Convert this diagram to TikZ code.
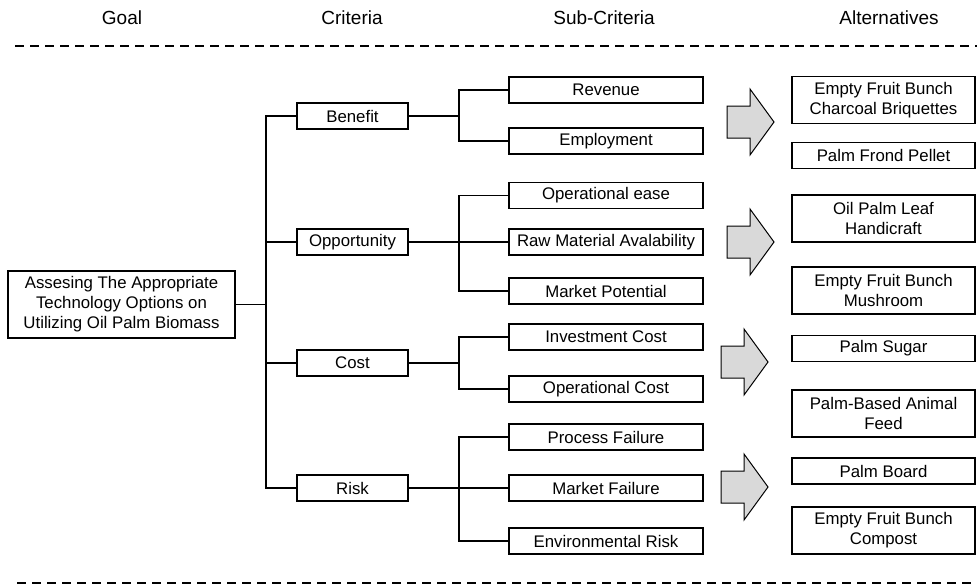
\documentclass[tikz,border=0pt]{standalone}
\usepackage{fontspec}
\setmainfont{Liberation Sans}

\begin{document}
\begin{tikzpicture}[x=0.5pt,y=-0.5pt]
	\tikzstyle{every node}=[font=\fontsize{8.4}{10}\selectfont]
	\tikzstyle{box}=[draw,line width=0.9pt,inner sep=0pt,align=center,minimum height=13pt]
	\tikzstyle{crit}=[box,minimum width=55.5pt]
	\tikzstyle{sub}=[box,minimum width=97pt]
	\tikzstyle{alt}=[box,minimum width=91.5pt]
	\tikzstyle{tall}=[minimum height=23.5pt]
	\tikzstyle{head}=[font=\fontsize{9.5}{11}\selectfont]
	\tikzstyle{link}=[draw,line width=0.8pt]
	\tikzstyle{sep}=[draw,line width=1pt,dash pattern=on 4.5pt off 3pt]
	\tikzstyle{bigarrow}=[draw,line width=0.5pt,fill=gray!30]

	\useasboundingbox (0,0) rectangle (977,585);

	\node[head] (hgoal) at (122,18) {Goal};
	\node[head] (hcrit) at (352,18) {Criteria};
	\node[head] (hsub) at (604,18) {Sub-Criteria};
	\node[head] (halt) at (889,18) {Alternatives};
	\draw[sep] (15,46) -- (977,46);
	\draw[sep] (17,583) -- (977,583);

	\node[box,minimum width=113.5pt,minimum height=33.5pt] (goal) at (121.5,304.5) {Assesing The Appropriate\\Technology Options on\\Utilizing Oil Palm Biomass};

	\node[crit] (benefit) at (352.5,116) {Benefit};
	\node[crit] (opport) at (352.5,242) {Opportunity};
	\node[crit] (cost) at (352.5,363) {Cost};
	\node[crit] (risk) at (352.5,488) {Risk};

	\node[sub] (revenue) at (606,90) {Revenue};
	\node[sub] (employ) at (606,141) {Employment};
	\node[sub] (opease) at (606,195.5) {Operational ease};
	\node[sub] (rawmat) at (606,242) {Raw Material Avalability};
	\node[sub] (market) at (606,291) {Market Potential};
	\node[sub] (invest) at (606,337) {Investment Cost};
	\node[sub] (opcost) at (606,389) {Operational Cost};
	\node[sub] (procfail) at (606,437) {Process Failure};
	\node[sub] (mktfail) at (606,488) {Market Failure};
	\node[sub] (envrisk) at (606,541) {Environmental Risk};

	\node[alt,tall] (efbchar) at (883.5,100) {Empty Fruit Bunch\\Charcoal Briquettes};
	\node[alt] (pellet) at (883.5,155.5) {Palm Frond Pellet};
	\node[alt,tall] (leaf) at (883.5,218.5) {Oil Palm Leaf\\Handicraft};
	\node[alt,tall] (mushroom) at (883.5,290.5) {Empty Fruit Bunch\\Mushroom};
	\node[alt] (sugar) at (883.5,348.5) {Palm Sugar};
	\node[alt,tall] (feed) at (883.5,413.5) {Palm-Based Animal\\Feed};
	\node[alt] (board) at (883.5,471) {Palm Board};
	\node[alt,tall] (compost) at (883.5,530.5) {Empty Fruit Bunch\\Compost};

	\coordinate (trunk) at (266,304.5);
	\draw[link] (goal.east) -- (trunk);
	\foreach \c in {benefit,opport,cost,risk}
		\draw[link] (trunk) |- (\c.west);
	\foreach \c/\s in {benefit/revenue,benefit/employ,opport/opease,opport/rawmat,opport/market,cost/invest,cost/opcost,risk/procfail,risk/mktfail,risk/envrisk}
		\draw[link] (\c.east) -- ++(50,0) |- (\s.west);

	\foreach \x/\y in {727/122,727/242,721/362,721/487}
		\draw[bigarrow] (\x,\y-16) -- ++(23,0) -- ++(0,-17) -- (\x+47,\y) -- (\x+23,\y+33) -- ++(0,-17) -- (\x,\y+16) -- cycle;
\end{tikzpicture}
\end{document}
